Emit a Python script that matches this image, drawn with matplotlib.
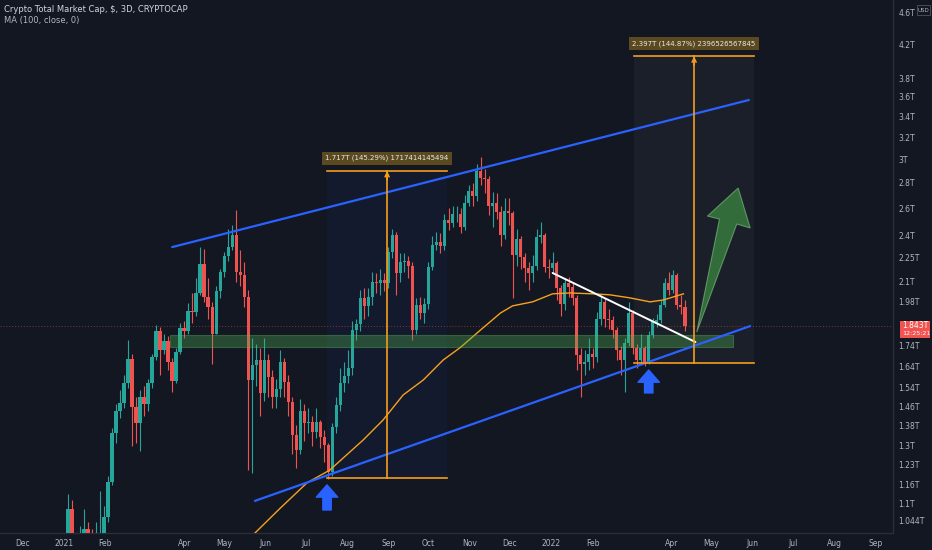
import numpy as np
import pandas as pd
import matplotlib
matplotlib.use("Agg")
import matplotlib.pyplot as plt
import matplotlib.dates as mdates
from matplotlib import font_manager
from matplotlib.patches import Rectangle, Polygon
from matplotlib.ticker import NullLocator, NullFormatter

# Crypto Total Market Cap, 3D candles, values in trillions of USD
first_open = 0.75
closes = [
    0.86, 1.08, 0.93, 0.96, 0.99, 1.02, 1.00, 0.96, 0.98, 1.00,
    1.056, 1.17, 1.349, 1.439, 1.473, 1.561, 1.675, 1.456, 1.390, 1.499,
    1.469, 1.561, 1.685, 1.818, 1.719, 1.765, 1.660, 1.570, 1.709, 1.834,
    1.818, 1.927, 1.922, 2.031, 2.210, 2.008, 1.950, 1.802, 2.043, 2.159,
    2.263, 2.322, 2.406, 2.159, 2.140, 2.008, 1.575, 1.646, 1.670, 1.517,
    1.670, 1.589, 1.499, 1.535, 1.660, 1.566, 1.477, 1.341, 1.284, 1.439,
    1.390, 1.394, 1.353, 1.394, 1.334, 1.303, 1.204, 1.373, 1.464, 1.561,
    1.593, 1.632, 1.823, 1.856, 2.002, 1.956, 2.008, 2.097, 2.091, 2.109,
    2.091, 2.289, 2.406, 2.153, 2.223, 2.230, 2.197, 1.823, 1.961, 1.916,
    1.967, 2.191, 2.336, 2.357, 2.329, 2.513, 2.491, 2.557, 2.560, 2.463,
    2.641, 2.735, 2.695, 2.900, 2.841, 2.833, 2.618, 2.641, 2.572, 2.406,
    2.580, 2.565, 2.269, 2.377, 2.256, 2.184, 2.153, 2.197, 2.392, 2.406,
    2.191, 2.184, 2.216, 2.061, 1.967, 2.091, 2.067, 2.002, 1.694, 1.651,
    1.660, 1.699, 1.685, 1.883, 1.979, 1.883, 1.877, 1.823, 1.719, 1.670,
    1.755, 1.916, 1.729, 1.670, 1.729, 1.660, 1.797, 1.866, 1.877, 1.961,
    2.091, 2.049, 2.140, 1.961, 1.950, 1.843,
]
highs = [
    0.90, 1.13, 1.11, 1.00, 1.03, 1.08, 1.04, 1.02, 1.04, 1.14,
    1.09, 1.19, 1.37, 1.47, 1.53, 1.60, 1.77, 1.70, 1.50, 1.53,
    1.55, 1.58, 1.70, 1.85, 1.84, 1.80, 1.79, 1.68, 1.73, 1.86,
    1.87, 1.97, 2.03, 2.12, 2.32, 2.31, 2.12, 1.98, 2.07, 2.18,
    2.29, 2.45, 2.48, 2.59, 2.30, 2.22, 2.05, 1.78, 1.75, 1.73,
    1.78, 1.70, 1.62, 1.58, 1.72, 1.68, 1.60, 1.50, 1.38, 1.49,
    1.47, 1.45, 1.42, 1.45, 1.40, 1.36, 1.31, 1.39, 1.50, 1.63,
    1.66, 1.72, 1.87, 1.88, 2.05, 2.06, 2.06, 2.16, 2.15, 2.18,
    2.15, 2.32, 2.45, 2.43, 2.28, 2.28, 2.26, 2.22, 2.00, 2.01,
    2.00, 2.22, 2.40, 2.43, 2.42, 2.56, 2.60, 2.62, 2.62, 2.60,
    2.70, 2.78, 2.80, 2.96, 3.02, 2.92, 2.86, 2.73, 2.72, 2.62,
    2.68, 2.68, 2.58, 2.45, 2.40, 2.28, 2.22, 2.27, 2.45, 2.50,
    2.42, 2.24, 2.29, 2.23, 2.08, 2.12, 2.13, 2.09, 2.02, 1.73,
    1.72, 1.78, 1.73, 1.92, 2.02, 2.00, 1.94, 1.90, 1.84, 1.74,
    1.78, 1.98, 1.93, 1.75, 1.80, 1.74, 1.82, 1.89, 1.91, 1.99,
    2.12, 2.16, 2.17, 2.15, 2.02, 1.99,
]
lows = [
    0.74, 0.85, 0.88, 0.90, 0.93, 0.97, 0.95, 0.92, 0.95, 0.97,
    0.99, 1.04, 1.16, 1.31, 1.41, 1.45, 1.54, 1.30, 1.31, 1.28,
    1.42, 1.44, 1.54, 1.67, 1.60, 1.70, 1.62, 1.52, 1.56, 1.70,
    1.78, 1.80, 1.86, 1.90, 2.02, 1.98, 1.88, 1.65, 1.80, 2.00,
    2.13, 2.23, 2.30, 2.10, 2.07, 1.95, 1.21, 1.20, 1.55, 1.42,
    1.48, 1.50, 1.45, 1.45, 1.50, 1.50, 1.42, 1.27, 1.22, 1.27,
    1.32, 1.35, 1.30, 1.33, 1.29, 1.24, 1.18, 1.19, 1.35, 1.44,
    1.52, 1.56, 1.60, 1.77, 1.82, 1.88, 1.90, 1.96, 2.03, 2.02,
    2.04, 2.06, 2.25, 2.02, 2.10, 2.16, 2.12, 1.77, 1.80, 1.88,
    1.86, 1.94, 2.17, 2.30, 2.28, 2.30, 2.44, 2.46, 2.50, 2.42,
    2.44, 2.62, 2.62, 2.66, 2.78, 2.72, 2.55, 2.46, 2.52, 2.33,
    2.38, 2.48, 2.00, 2.20, 2.18, 2.10, 2.05, 2.10, 2.17, 2.35,
    2.16, 2.12, 2.15, 1.99, 1.90, 1.93, 2.01, 1.96, 1.62, 1.50,
    1.60, 1.62, 1.63, 1.66, 1.85, 1.84, 1.83, 1.78, 1.67, 1.60,
    1.52, 1.74, 1.70, 1.63, 1.65, 1.64, 1.65, 1.78, 1.84, 1.86,
    1.95, 2.02, 2.03, 1.94, 1.91, 1.82,
]
dates = pd.date_range("2021-01-01", periods=len(closes), freq="3D")

# MA(100, close)
ma_dates = ["2021-05-17", "2021-05-24", "2021-06-12", "2021-07-02", "2021-07-19",
            "2021-08-13", "2021-08-28", "2021-09-12", "2021-09-27", "2021-10-12",
            "2021-10-25", "2021-11-09", "2021-11-24", "2021-12-03", "2021-12-18",
            "2022-01-02", "2022-01-15", "2022-02-01", "2022-02-14", "2022-03-01",
            "2022-03-16", "2022-03-26", "2022-04-10"]
ma_values = [0.98, 1.008, 1.084, 1.167, 1.211, 1.322, 1.402, 1.508, 1.575, 1.670,
             1.733, 1.823, 1.916, 1.956, 1.979, 2.026, 2.031, 2.026, 2.020, 2.002,
             1.979, 1.990, 2.026]

last_price = 1.843

# drawings on the chart
upper_channel = [("2021-03-23", 2.322), ("2022-05-29", 3.567)]
lower_channel = [("2021-05-24", 1.107), ("2022-05-30", 1.844)]
white_line = [("2022-01-02", 2.153), ("2022-04-19", 1.760)]
zone = ("2021-03-21", "2022-05-17", 1.734, 1.797)
measures = [
    # start, end, vertical, low, high, label
    ("2021-07-17", "2021-10-15", "2021-08-31", 1.1821, 2.8992,
     "1.717T (145.29%) 1717414145494"),
    ("2022-03-04", "2022-06-02", "2022-04-18", 1.6546, 4.0516,
     "2.397T (144.87%) 2396526567845"),
]
blue_arrows = [("2021-07-17", 1.078, 1.160), ("2022-03-15", 1.517, 1.622)]
green_arrow = [("2022-05-21", 2.759), ("2022-05-30", 2.455), ("2022-05-20", 2.484),
               ("2022-04-20", 1.812), ("2022-05-07", 2.520), ("2022-04-28", 2.542)]

month_ticks = ["2020-12-01", "2021-01-01", "2021-02-01", "2021-04-01", "2021-05-01",
               "2021-06-01", "2021-07-01", "2021-08-01", "2021-09-01", "2021-10-01",
               "2021-11-01", "2021-12-01", "2022-01-01", "2022-02-01", "2022-04-01",
               "2022-05-01", "2022-06-01", "2022-07-01", "2022-08-01", "2022-09-01"]
month_labels = ["Dec", "2021", "Feb", "Apr", "May", "Jun", "Jul", "Aug", "Sep", "Oct",
                "Nov", "Dec", "2022", "Feb", "Apr", "May", "Jun", "Jul", "Aug", "Sep"]
price_ticks = [4.6, 4.2, 3.8, 3.6, 3.4, 3.2, 3.0, 2.8, 2.6, 2.4, 2.25, 2.1, 1.98,
               1.74, 1.64, 1.54, 1.46, 1.38, 1.3, 1.23, 1.16, 1.1, 1.044]
price_labels = ["4.6T", "4.2T", "3.8T", "3.6T", "3.4T", "3.2T", "3T", "2.8T", "2.6T",
                "2.4T", "2.25T", "2.1T", "1.98T", "1.74T", "1.64T", "1.54T", "1.46T",
                "1.38T", "1.3T", "1.23T", "1.16T", "1.1T", "1.044T"]

BG = "#131722"
UP = "#26a69a"
DOWN = "#ef5350"
TXT = "#b2b5be"
ORANGE = "#f59d1c"
BLUE = "#2962ff"

names = {f.name for f in font_manager.fontManager.ttflist}
fam = "Liberation Sans Narrow" if "Liberation Sans Narrow" in names else "DejaVu Sans"
plt.rcParams["font.family"] = [fam, "DejaVu Sans"]

W, H = 932, 550
fig = plt.figure(figsize=(W / 100, H / 100), dpi=100)
fig.patch.set_facecolor(BG)
ax = fig.add_axes([0, 17 / H, 893 / W, 533 / H])
ax.set_facecolor(BG)
ax.set_yscale("log")


def d(s):
    return mdates.date2num(pd.Timestamp(s))


# candles
xs = mdates.date2num(dates)
opens = [first_open] + closes[:-1]
cols = [UP if c >= o else DOWN for o, c in zip(opens, closes)]
ax.vlines(xs, lows, highs, colors=cols, lw=0.8, zorder=3)
bottoms = [min(o, c) for o, c in zip(opens, closes)]
heights = [max(abs(c - o), 0.004) for o, c in zip(opens, closes)]
ax.bar(xs, heights, bottom=bottoms, width=2.6, color=cols, lw=0, zorder=4)

# moving average
ax.plot([d(s) for s in ma_dates], ma_values, color="#f7a21b", lw=1.0, zorder=5)

# last price line
ax.axhline(last_price, color=DOWN, lw=0.7, ls=(0, (1, 2)), alpha=0.5, zorder=2)

# support zone
z0, z1, zlo, zhi = zone
ax.add_patch(Rectangle((d(z0), zlo), d(z1) - d(z0), zhi - zlo, facecolor="#4caf50",
                       alpha=0.35, edgecolor="#66bb6a", lw=0.8, zorder=6))

# channel and trend lines
for pts, col, lw in [(upper_channel, BLUE, 1.6), (lower_channel, BLUE, 1.6),
                     (white_line, "white", 1.4)]:
    ax.plot([d(p[0]) for p in pts], [p[1] for p in pts], color=col, lw=lw,
            solid_capstyle="round", zorder=7)

# date/price range measures
for i, (s0, s1, sv, lo, hi, label) in enumerate(measures):
    fc = "#2962ff" if i == 0 else "#ffffff"
    al = 0.05 if i == 0 else 0.035
    ax.add_patch(Rectangle((d(s0), lo), d(s1) - d(s0), hi - lo, facecolor=fc,
                           alpha=al, lw=0, zorder=1))
    ax.plot([d(s0), d(s1)], [hi, hi], color=ORANGE, lw=1.2, zorder=8)
    ax.plot([d(s0), d(s1)], [lo, lo], color=ORANGE, lw=1.2, zorder=8)
    ax.plot([d(sv), d(sv)], [lo, hi], color=ORANGE, lw=1.2, zorder=8)
    ax.annotate("", xy=(d(sv), hi), xytext=(d(sv), hi * 0.975),
                arrowprops=dict(arrowstyle="->", color=ORANGE, lw=1.2,
                                mutation_scale=7, shrinkA=0, shrinkB=0), zorder=8)
    ax.text(d(sv), hi * 1.038, label, ha="center", va="center", fontsize=5.0,
            color="#e8e8e8", zorder=9,
            bbox=dict(boxstyle="square,pad=0.45", fc="#5b4a1f", ec="none"))

# blue arrows
for s, lo, hi in blue_arrows:
    ax.annotate("", xy=(d(s), hi), xytext=(d(s), lo),
                arrowprops=dict(arrowstyle="simple,head_length=0.8,head_width=1.4,tail_width=0.55",
                                color=BLUE, mutation_scale=11, shrinkA=0, shrinkB=0),
                zorder=9)

# green arrow
ax.add_patch(Polygon([(d(p[0]), p[1]) for p in green_arrow], closed=True,
                     facecolor="#43a047", alpha=0.6, edgecolor="#81c784", lw=0.8,
                     zorder=9))

ax.set_xlim(d("2020-11-14"), d("2022-09-14"))
ax.set_ylim(1.008, 4.776)

ax.yaxis.tick_right()
ax.set_yticks(price_ticks)
ax.set_yticklabels(price_labels)
ax.yaxis.set_minor_locator(NullLocator())
ax.yaxis.set_minor_formatter(NullFormatter())
ax.set_xticks([d(s) for s in month_ticks])
ax.set_xticklabels(month_labels)
ax.tick_params(axis="y", length=0, pad=4, labelsize=5.5, labelcolor=TXT)
ax.tick_params(axis="x", length=0, pad=4, labelsize=5.5, labelcolor=TXT)
for side in ["top", "left"]:
    ax.spines[side].set_visible(False)
for side in ["right", "bottom"]:
    ax.spines[side].set_color("#2a2e39")
    ax.spines[side].set_linewidth(1.0)


def fx(x):
    return x / W


def fy(y):
    return 1 - y / H


# legend text
fig.text(fx(4), fy(10), "Crypto Total Market Cap, $, 3D, CRYPTOCAP", fontsize=6,
         color="#d1d4dc", va="center", ha="left")
fig.text(fx(4), fy(21), "MA (100, close, 0)", fontsize=6, color=TXT, va="center",
         ha="left")

# price label on the scale
fig.patches.append(Rectangle((fx(900), fy(338)), fx(30), 17 / H, facecolor="#f05350",
                             edgecolor="none", transform=fig.transFigure, zorder=10))
fig.text(fx(902), fy(325), "1.843T", fontsize=5.5, color="white", va="center",
         ha="left", zorder=11)
fig.text(fx(902), fy(333.5), "12:25:21", fontsize=4.6, color="white", va="center",
         ha="left", zorder=11)

# currency box
fig.patches.append(Rectangle((fx(917), fy(15)), fx(13), 10 / H, facecolor=BG,
                             edgecolor="#50535e", lw=0.6, transform=fig.transFigure,
                             zorder=10))
fig.text(fx(923.5), fy(10), "USD", fontsize=4.0, color=TXT, va="center", ha="center",
         zorder=11)

fig.savefig("out.png", dpi=100, facecolor=fig.get_facecolor())
